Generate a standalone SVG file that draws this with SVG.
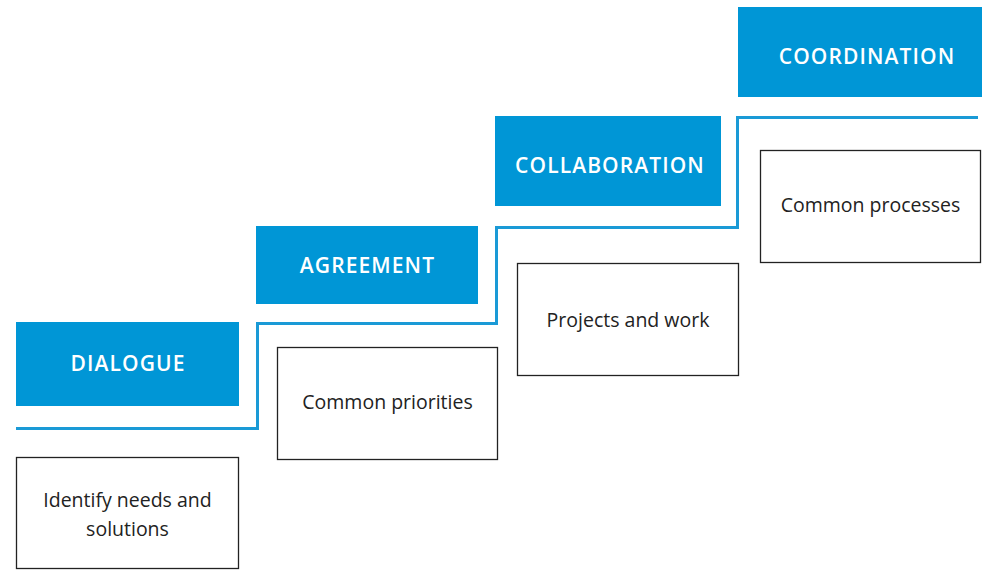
<svg xmlns="http://www.w3.org/2000/svg" width="988" height="570" viewBox="0 0 988 570">
<style>
.hb{fill:#0096d6}
.ht{fill:#fff;font-family:"Open Sans","Liberation Sans",sans-serif;font-weight:600;font-size:21px;letter-spacing:1.1px;text-anchor:middle}
.wb{fill:#fff;stroke:#222;stroke-width:1.3}
.bt{fill:#222;font-family:"Open Sans","Liberation Sans",sans-serif;font-size:19.5px;text-anchor:middle}
.step{fill:none;stroke:#1a9ad6;stroke-width:3}
</style>
<rect width="988" height="570" fill="#fff"/>
<g id="connectors">
<path class="step" d="M16 428.5 H257.5 V323.5 H496.5 V227.5 H737.5 V117.5 H978"/>
</g>
<g id="dialogue">
<rect class="hb" x="16" y="322" width="223" height="84"/>
<text class="ht" x="128" y="371">DIALOGUE</text>
</g>
<g id="agreement">
<rect class="hb" x="256" y="226" width="222" height="78"/>
<text class="ht" x="367.5" y="273">AGREEMENT</text>
</g>
<g id="collaboration">
<rect class="hb" x="495" y="116" width="226" height="90"/>
<text class="ht" x="610" y="173">COLLABORATION</text>
</g>
<g id="coordination">
<rect class="hb" x="738" y="7" width="244" height="90"/>
<text class="ht" x="867" y="64">COORDINATION</text>
</g>
<g id="identify">
<rect class="wb" x="16.5" y="457.5" width="222" height="111"/>
<text class="bt" x="127.5" y="507">Identify needs and</text>
<text class="bt" x="127.5" y="536">solutions</text>
</g>
<g id="priorities">
<rect class="wb" x="277.5" y="347.5" width="220" height="112"/>
<text class="bt" x="387.5" y="409">Common priorities</text>
</g>
<g id="projects">
<rect class="wb" x="517.5" y="263.5" width="221" height="112"/>
<text class="bt" x="628" y="327">Projects and work</text>
</g>
<g id="processes">
<rect class="wb" x="760.5" y="150.5" width="220" height="112"/>
<text class="bt" x="870.5" y="212">Common processes</text>
</g>
</svg>
